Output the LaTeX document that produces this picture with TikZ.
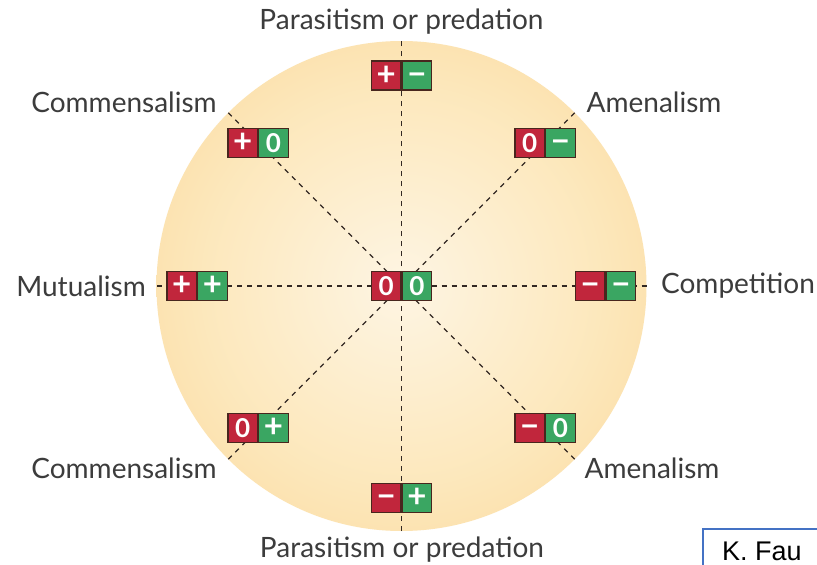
\documentclass[tikz,border=0pt]{standalone}
\usepackage{fontspec}
\setmainfont{Lato}
\newfontfamily\arialf{Liberation Sans}
\definecolor{boxred}{RGB}{193,38,60}
\definecolor{boxgreen}{RGB}{58,166,98}
\definecolor{edgebrown}{RGB}{72,38,30}
\definecolor{labelgray}{RGB}{60,60,60}
\definecolor{kblue}{RGB}{68,114,196}
\definecolor{dashcol}{RGB}{50,40,35}
\pgfdeclareradialshading{disc}{\pgfpoint{0bp}{0bp}}{rgb(0bp)=(0.995,0.96,0.89); rgb(20bp)=(0.99,0.91,0.74); rgb(50bp)=(0.97,0.79,0.48)}
\tikzset{
  halfbox/.style={draw=edgebrown, line width=1.2pt, minimum width=29.5pt, minimum height=29pt,
    inner sep=0pt, text=white, text height=19pt, text depth=0pt,
    font=\bfseries\fontsize{26}{26}\selectfont},
  lbl/.style={text=labelgray, inner sep=0pt, font=\fontsize{28}{30}\selectfont},
  dashline/.style={draw=dashcol, line width=1.1pt, dash pattern=on 5pt off 5pt},
  ktext/.style={anchor=base west, inner sep=0pt, font=\arialf\fontsize{27}{29}\selectfont}
}
\newcommand\pl{{\fontsize{33}{33}\selectfont +}}
\newcommand\mi{{\fontsize{33}{33}\selectfont −}}
\newcommand\relpair[4]{%
  \node[halfbox, fill=boxred, anchor=east] (#1l) at #2 {#3};
  \node[halfbox, fill=boxgreen, anchor=west] (#1r) at #2 {#4};}
\begin{document}
\begin{tikzpicture}[x=1pt, y=-1pt]
\useasboundingbox (0,0) rectangle (817,565);
\fill[white] (0,0) rectangle (817,565);
\shade[shading=disc] (401.5,286) circle (245pt);
% centre and rim points
\coordinate (o) at (401.5,286);
\coordinate (eN) at (401.5,41);
\coordinate (eS) at (401.5,531);
\coordinate (eW) at (156.5,286);
\coordinate (eE) at (646.5,286);
\coordinate (eNW) at (228.3,112.8);
\coordinate (eNE) at (574.7,112.8);
\coordinate (eSW) at (228.3,459.2);
\coordinate (eSE) at (574.7,459.2);
\foreach \e in {eN,eS,eW,eE,eNW,eNE,eSW,eSE} \draw[dashline] (o) -- (\e);
% boxes
\relpair{c}{(401.5,286)}{0}{0}
\relpair{n}{(401.5,75.5)}{\pl}{\mi}
\relpair{s}{(401.5,498)}{\mi}{\pl}
\relpair{w}{(197,286)}{\pl}{\pl}
\relpair{e}{(605.5,286)}{\mi}{\mi}
\relpair{nw}{(258,143)}{\pl}{0}
\relpair{ne}{(545,143)}{0}{\mi}
\relpair{sw}{(258,428)}{0}{\pl}
\relpair{se}{(545,428)}{\mi}{0}
% labels
\node[lbl] (tN) at (401.5,22) {Parasitism or predation};
\node[lbl] (tS) at (402,550) {Parasitism or predation};
\node[lbl] (tNW) at (124,102) {Commensalism};
\node[lbl] (tNE) at (654,102) {Amenalism};
\node[lbl] (tW) at (81,286) {Mutualism};
\node[lbl] (tE) at (738,286) {Competition};
\node[lbl] (tSW) at (124,468) {Commensalism};
\node[lbl] (tSE) at (652,468) {Amenalism};
% credit box
\begin{scope}
\clip (0,0) rectangle (817,565);
\draw[kblue, line width=1.2pt] (703,529) rectangle (840,600);
\end{scope}
\node[ktext] (k) at (722,560) {K. Fau};
\end{tikzpicture}
\end{document}
